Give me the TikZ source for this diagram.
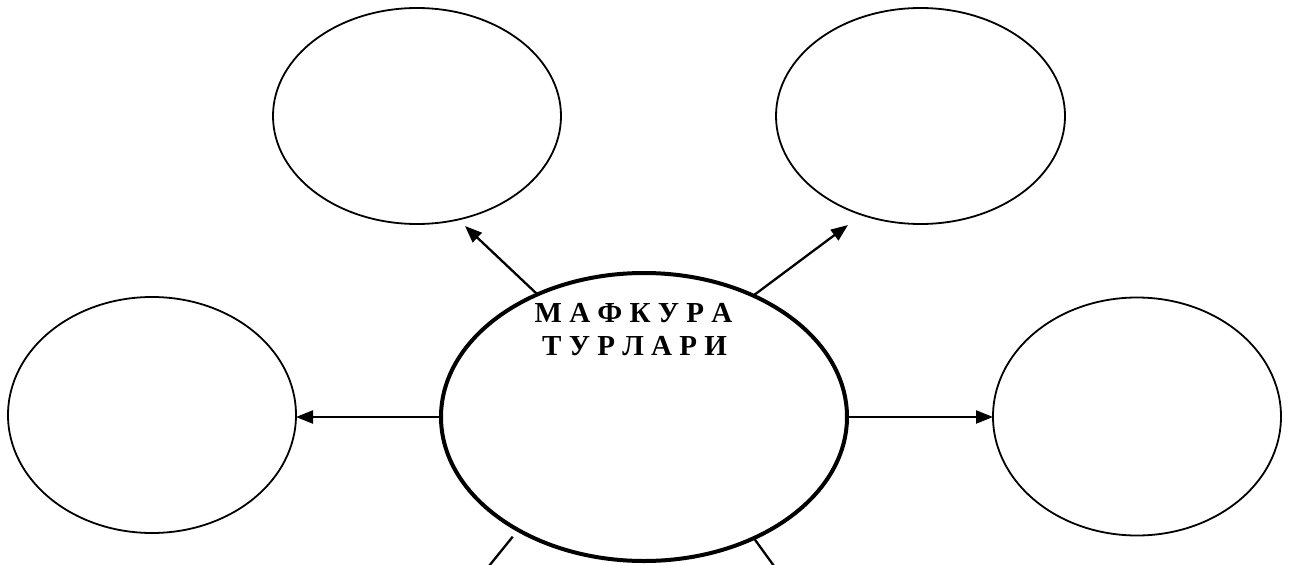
\documentclass[tikz,border=0pt]{standalone}
\usepackage{fontspec}
\setmainfont{Liberation Serif}
\usetikzlibrary{shapes.geometric,arrows.meta}
\begin{document}
\begin{tikzpicture}[x=1pt,y=-1pt,
  thinell/.style={draw,ellipse,line width=1.8pt,inner sep=0pt,outer sep=0pt},
  mainell/.style={draw,ellipse,line width=4pt,inner sep=0pt,outer sep=0pt},
  arr/.style={line width=2.3pt,-{Triangle[length=17pt,width=13pt]}},
  plain/.style={line width=2.3pt},
  title/.style={font=\fontsize{29}{33}\selectfont\bfseries,anchor=base,inner sep=0pt}]
\useasboundingbox (0,0) rectangle (1291,565);
% ellipses
\node[thinell,minimum width=288pt,minimum height=216pt] (tl) at (417,116) {};
\node[thinell,minimum width=289pt,minimum height=216pt] (tr) at (920.5,116) {};
\node[thinell,minimum width=288pt,minimum height=236pt] (l) at (152,415) {};
\node[thinell,minimum width=288pt,minimum height=238pt] (r) at (1137,416.5) {};
\node[mainell,minimum width=406pt,minimum height=288pt] (c) at (644,417) {};
% title
\node[title] (t1) at (633.5,322) {М А Ф К У Р А};
\node[title] (t2) at (634.5,355) {Т У Р Л А Р И};
% arrow tips and free ends
\coordinate (tlTip) at (465,226);
\coordinate (trTip) at (848,225);
\coordinate (blA) at (512.7,536.7);
\coordinate (blB) at (489,566);
\coordinate (brA) at (753,537);
\coordinate (brB) at (774,566);
% connectors
\draw[arr] (c.131.5) -- (tlTip);
\draw[arr] (c.48) -- (trTip);
\draw[arr] (c.west) -- (l.east |- c.west);
\draw[arr] (c.east) -- (r.west |- c.east);
\draw[plain] (blA) -- (blB);
\draw[plain] (brA) -- (brB);
\end{tikzpicture}
\end{document}
